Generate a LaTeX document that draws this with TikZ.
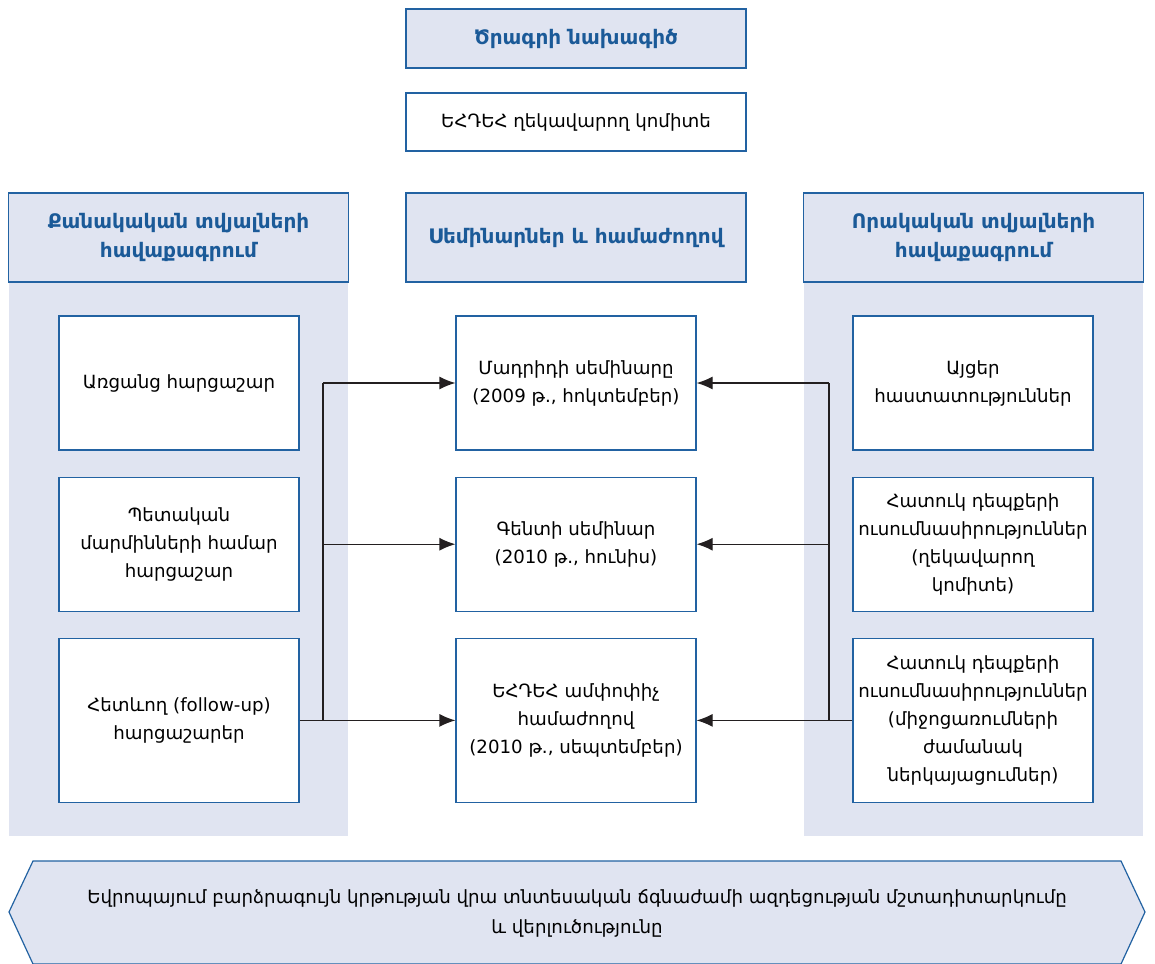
\documentclass[tikz,border=0pt]{standalone}
\usepackage{fontspec}
\setmainfont{DejaVu Sans}
\usetikzlibrary{arrows.meta,positioning}
\definecolor{panel}{HTML}{E0E4F1}
\definecolor{edge}{HTML}{2262A2}
\definecolor{headtext}{HTML}{1B5A98}
\definecolor{wire}{HTML}{231F20}

\begin{document}
\begin{tikzpicture}[x=0.5pt, y=-0.5pt, node distance=13pt,
  box/.style={draw=edge, line width=0.6pt, fill=white, align=center,
    minimum width=120pt, minimum height=67pt, inner sep=1pt,
    font=\fontsize{9.1}{14}\selectfont},
  head/.style={box, fill=panel, minimum width=170pt, minimum height=44.5pt,
    text=headtext, font=\bfseries\fontsize{10}{14.5}\selectfont},
  link/.style={draw=wire, line width=0.6pt, -{Latex[length=8pt,width=6.5pt]}}]
\useasboundingbox (0,0) rectangle (1155,963);

% background columns
\fill[panel] (9,282) rectangle (348,836);
\fill[panel] (804,282) rectangle (1143,836);

% top
\node[head, minimum height=29.5pt] (plan) at (576,38.5) {Ծրագրի նախագիծ};
\node[box, minimum width=170pt, minimum height=29pt, text=black] (committee) at (576,122) {ԵՀԴԵՀ ղեկավարող կոմիտե};

% headers
\node[head] (quant) at (178.5,237.5) {Քանակական տվյալների\\հավաքագրում};
\node[head] (seminars) at (576,237.5) {Սեմինարներ և համաժողով};
\node[head] (qual) at (973.5,237.5) {Որակական տվյալների\\հավաքագրում};

% left column
\node[box] (online) at (179,383) {Առցանց հարցաշար};
\node[box, below=of online] (state) {Պետական\\մարմինների համար\\հարցաշար};
\node[box, below=of state, minimum height=82pt] (followup) {Հետևող (follow-up)\\հարցաշարեր};

% middle column
\node[box] (madrid) at (576,383) {Մադրիդի սեմինարը\\(2009 թ., հոկտեմբեր)};
\node[box, below=of madrid] (ghent) {Գենտի սեմինար\\(2010 թ., հունիս)};
\node[box, below=of ghent, minimum height=82pt] (final) {ԵՀԴԵՀ ամփոփիչ\\համաժողով\\(2010 թ., սեպտեմբեր)};

% right column
\node[box] (visits) at (973,383) {Այցեր\\հաստատություններ};
\node[box, below=of visits] (casesA) {Հատուկ դեպքերի\\ուսումնասիրություններ\\(ղեկավարող\\կոմիտե)};
\node[box, below=of casesA, minimum height=82pt] (casesB) {Հատուկ դեպքերի\\ուսումնասիրություններ\\(միջոցառումների\\ժամանակ\\ներկայացումներ)};

% connectors
\coordinate (lx) at (323,0);
\coordinate (rx) at (829,0);
\draw[wire, line width=0.6pt] (lx |- madrid.west) -- (lx |- final.west);
\draw[link] (lx |- madrid.west) -- (madrid.west);
\draw[link] (lx |- ghent.west) -- (ghent.west);
\draw[link] (followup.east) -- (final.west);
\draw[wire, line width=0.6pt] (rx |- madrid.east) -- (rx |- final.east);
\draw[link] (rx |- madrid.east) -- (madrid.east);
\draw[link] (rx |- ghent.east) -- (ghent.east);
\draw[link] (casesB.west) -- (final.east);

% bottom banner
\draw[draw=edge, line width=0.6pt, fill=panel] (33,861) -- (1121,861) -- (1145,912) -- (1121,964) -- (33,964) -- (9,912) -- cycle;
\node[align=center, font=\fontsize{9.1}{15}\selectfont] (monitor) at (577,913) {Եվրոպայում բարձրագույն կրթության վրա տնտեսական ճգնաժամի ազդեցության մշտադիտարկումը\\և վերլուծությունը};
\end{tikzpicture}
\end{document}
